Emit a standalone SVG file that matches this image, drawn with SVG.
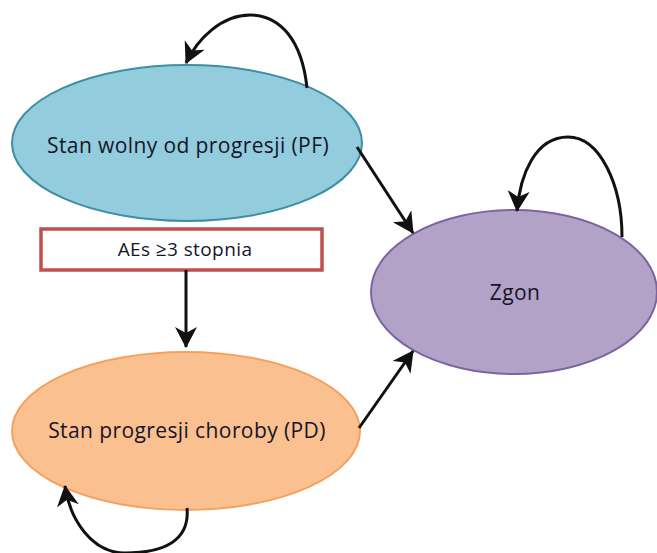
<svg xmlns="http://www.w3.org/2000/svg" width="657" height="553" viewBox="0 0 657 553">
<style>
.lbl{font-family:"Open Sans","Liberation Sans",sans-serif;font-size:21px;fill:#15152a;text-anchor:middle;letter-spacing:0.4px}
.edge{fill:none;stroke:#111;stroke-width:3}
</style>
<defs>
<marker id="ah" markerWidth="24" markerHeight="24" refX="20" refY="11" orient="auto" markerUnits="userSpaceOnUse">
<path d="M0,0 L21,11 L0,22 L6,11 Z" fill="#111"/>
</marker>
</defs>
<rect width="657" height="553" fill="#fff"/>
<g id="pf">
<ellipse cx="187" cy="143" rx="175" ry="78" fill="#93CDDD" stroke="#3E8FA3" stroke-width="2"/>
<text class="lbl" x="188" y="153">Stan wolny od progresji (PF)</text>
</g>
<g id="aes">
<rect x="41" y="229" width="281" height="41" fill="#fff" stroke="#C0504D" stroke-width="3.5"/>
<text class="lbl" x="185" y="256" style="font-size:19px">AEs ≥3 stopnia</text>
</g>
<g id="pd">
<ellipse cx="186" cy="431" rx="174" ry="79" fill="#FAC090" stroke="#F3A15D" stroke-width="2"/>
<text class="lbl" x="187" y="438">Stan progresji choroby (PD)</text>
</g>
<g id="zgon">
<ellipse cx="514" cy="292" rx="143" ry="82" fill="#B3A2C7" stroke="#7D64A0" stroke-width="2"/>
<text class="lbl" x="515" y="300">Zgon</text>
</g>
<g id="connectors">
<path class="edge" d="M307,88 C302,40 280,15 250,15 C222,15 198,38 186,63" marker-end="url(#ah)"/>
<path class="edge" d="M622,237 C622,185 600,137 568,137 C535,137 520,175 517,211" marker-end="url(#ah)"/>
<path class="edge" d="M187,508 C190,540 165,553 125,553 C92,553 70,520 65,486" marker-end="url(#ah)"/>
<path class="edge" d="M357,147 L413,233" marker-end="url(#ah)"/>
<path class="edge" d="M359,428 L413,351" marker-end="url(#ah)"/>
<path class="edge" d="M186,270 L186,347" marker-end="url(#ah)"/>
</g>
</svg>
